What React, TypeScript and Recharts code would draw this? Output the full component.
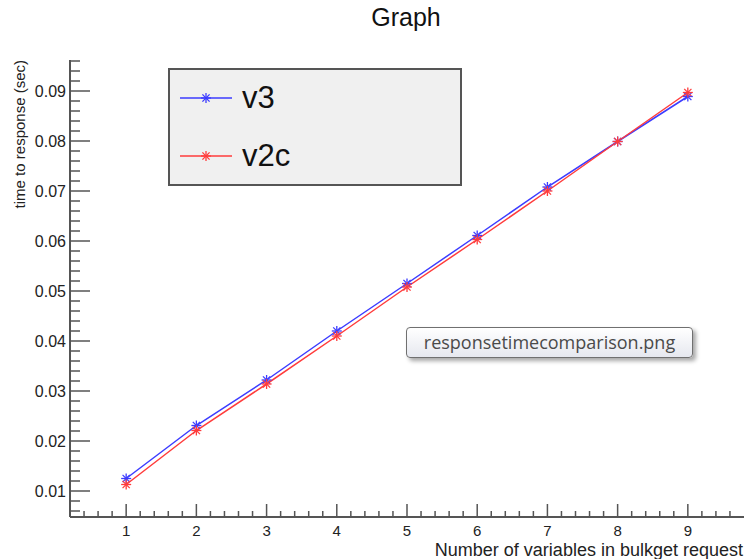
import React from 'react';
import { LineChart, Line, XAxis, YAxis, Legend } from 'recharts';

// values
const xValues = [1, 2, 3, 4, 5, 6, 7, 8, 9];
const v3Values = [0.0125, 0.0231, 0.0322, 0.042, 0.0515, 0.0611, 0.0708, 0.0799, 0.0889];
const v2cValues = [0.0113, 0.0221, 0.0314, 0.041, 0.0508, 0.0603, 0.07, 0.0799, 0.0897];
const seriesNames = ['v3', 'v2c'];
const xTickLabels = [1, 2, 3, 4, 5, 6, 7, 8, 9];
const yTickLabels = [0.01, 0.02, 0.03, 0.04, 0.05, 0.06, 0.07, 0.08, 0.09];

const X_DOMAIN: [number, number] = [0.2, 9.8];
const Y_DOMAIN: [number, number] = [0.0048, 0.0962];

const data = xValues.map((x, i) => ({ x, v3: v3Values[i], v2c: v2cValues[i] }));

// minor ticks every 0.2 on x and every 0.002 on y (majors come from the label arrays)
const xTicks: number[] = [];
for (let i = 2; i <= 48; i++) xTicks.push(Number((i / 5).toFixed(1)));
const yTicks: number[] = [];
for (let i = 3; i <= 48; i++) yTicks.push(Number((i * 0.002).toFixed(3)));

const FONT = '"Liberation Sans", Arial, Helvetica, sans-serif';
const AXIS = '#555';
const BLUE = '#3c3cff';
const RED = '#ff3c3c';
const TM = 4; // tick margin used to get back to the axis line

const isMajorX = (v: number) => xTickLabels.some(t => Math.abs(t - v) < 1e-6);
const isMajorY = (v: number) => yTickLabels.some(t => Math.abs(t - v) < 1e-6);

const XTick = (props: any) => {
  const { x, y, payload } = props;
  const v = payload.value;
  const major = isMajorX(v);
  const axisY = y - TM;
  return (
    <g>
      <line x1={x} x2={x} y1={axisY} y2={axisY - (major ? 13 : 6)} stroke={AXIS} strokeWidth={1.5} />
      {major && (
        <text x={x} y={axisY + 19} textAnchor="middle" fontSize={15} fontFamily={FONT} fill="#222">
          {v}
        </text>
      )}
    </g>
  );
};

const YTick = (props: any) => {
  const { x, y, payload } = props;
  const v = payload.value;
  const major = isMajorY(v);
  const axisX = x + TM;
  return (
    <g>
      <line x1={axisX} x2={axisX + (major ? 20 : 10)} y1={y} y2={y} stroke={AXIS} strokeWidth={1.5} />
      {major && (
        <text x={axisX - 4} y={y} dy="0.36em" textAnchor="end" fontSize={16} fontFamily={FONT} fill="#222">
          {v.toFixed(2)}
        </text>
      )}
    </g>
  );
};

const Star = ({ cx, cy, color, r = 5 }: { cx: number; cy: number; color: string; r?: number }) => {
  const d = r * 0.72;
  return (
    <g stroke={color} strokeWidth={1.3}>
      <line x1={cx - r} x2={cx + r} y1={cy} y2={cy} />
      <line x1={cx} x2={cx} y1={cy - r} y2={cy + r} />
      <line x1={cx - d} x2={cx + d} y1={cy - d} y2={cy + d} />
      <line x1={cx - d} x2={cx + d} y1={cy + d} y2={cy - d} />
    </g>
  );
};

const renderDot = (color: string) => (props: any) => (
  <Star key={`dot-${color}-${props.index}`} cx={props.cx} cy={props.cy} color={color} />
);

const renderLegend = (props: any) => {
  const items = [...(props.payload || [])].sort(
    (a: any, b: any) => seriesNames.indexOf(a.value) - seriesNames.indexOf(b.value)
  );
  return (
    <div
      style={{
        width: 294,
        height: 118,
        boxSizing: 'border-box',
        background: '#f0f0f0',
        border: '2px solid #555',
        position: 'relative',
        fontFamily: FONT,
      }}
    >
      {items.map((entry: any, i: number) => (
        <div
          key={entry.value}
          style={{ position: 'absolute', left: 10, top: 28 + i * 58 - 20, height: 40, display: 'flex', alignItems: 'center' }}
        >
          <svg width={52} height={16} style={{ display: 'block' }}>
            <line x1={0} x2={52} y1={8} y2={8} stroke={entry.color} strokeWidth={1.5} />
            <Star cx={26} cy={8} color={entry.color} />
          </svg>
          <span style={{ marginLeft: 10, fontSize: 31, color: '#111', lineHeight: '40px' }}>{entry.value}</span>
        </div>
      ))}
    </div>
  );
};

export default function App() {
  return (
    <div style={{ position: 'relative', width: 747, height: 559, background: '#fff' }}>
      <style>{`body{margin:0}`}</style>
      <LineChart width={747} height={559} data={data} margin={{ top: 60, right: 3, bottom: 0, left: 0 }}>
        <XAxis
          dataKey="x"
          type="number"
          domain={X_DOMAIN}
          allowDataOverflow
          ticks={xTicks}
          interval={0}
          tickSize={0}
          tickMargin={TM}
          tickLine={false}
          tick={XTick}
          height={42}
          axisLine={{ stroke: AXIS, strokeWidth: 2 }}
        />
        <XAxis xAxisId="top" orientation="top" type="number" domain={X_DOMAIN} allowDataOverflow height={0} tick={false} tickLine={false} axisLine={{ stroke: AXIS, strokeWidth: 2 }} />
        <YAxis
          type="number"
          domain={Y_DOMAIN}
          allowDataOverflow
          ticks={yTicks}
          interval={0}
          tickSize={0}
          tickMargin={TM}
          tickLine={false}
          tick={YTick}
          width={70}
          axisLine={{ stroke: AXIS, strokeWidth: 2 }}
        />
        <YAxis yAxisId="right" orientation="right" type="number" domain={Y_DOMAIN} allowDataOverflow width={0} tick={false} tickLine={false} axisLine={{ stroke: AXIS, strokeWidth: 2 }} />
        <Legend
          layout="horizontal"
          verticalAlign="middle"
          align="center"
          itemSorter={null}
          content={renderLegend}
          wrapperStyle={{ position: 'absolute', left: 168, top: 68, width: 294, height: 118 }}
        />
        <Line
          dataKey="v3"
          name="v3"
          stroke={BLUE}
          strokeWidth={1.5}
          type="linear"
          dot={renderDot(BLUE)}
          activeDot={false}
          isAnimationActive={false}
        />
        <Line
          dataKey="v2c"
          name="v2c"
          stroke={RED}
          strokeWidth={1.5}
          type="linear"
          dot={renderDot(RED)}
          activeDot={false}
          isAnimationActive={false}
        />
      </LineChart>
      <svg width={747} height={559} style={{ position: 'absolute', left: 0, top: 0, pointerEvents: 'none' }}>
        <text x={406} y={26} textAnchor="middle" fontSize={25} fontFamily={FONT} fill="#111">
          Graph
        </text>
        <text transform="translate(25,60) rotate(-90)" textAnchor="end" fontSize={15} fontFamily={FONT} fill="#222">
          time to response (sec)
        </text>
        <text x={743} y={556} textAnchor="end" fontSize={18} fontFamily={FONT} fill="#222">
          Number of variables in bulkget request
        </text>
      </svg>
      <div
        style={{
          position: 'absolute',
          left: 406,
          top: 327,
          width: 287,
          height: 31,
          boxSizing: 'border-box',
          border: '1px solid #707070',
          borderRadius: 4,
          background: 'linear-gradient(#ffffff, #e6e8ef)',
          boxShadow: '3px 3px 4px rgba(0,0,0,0.35)',
          fontFamily: '"Open Sans", "DejaVu Sans", sans-serif',
          fontSize: 18,
          color: '#4a4a4a',
          display: 'flex',
          alignItems: 'center',
          justifyContent: 'center',
          lineHeight: '29px',
        }}
      >
        responsetimecomparison.png
      </div>
    </div>
  );
}
